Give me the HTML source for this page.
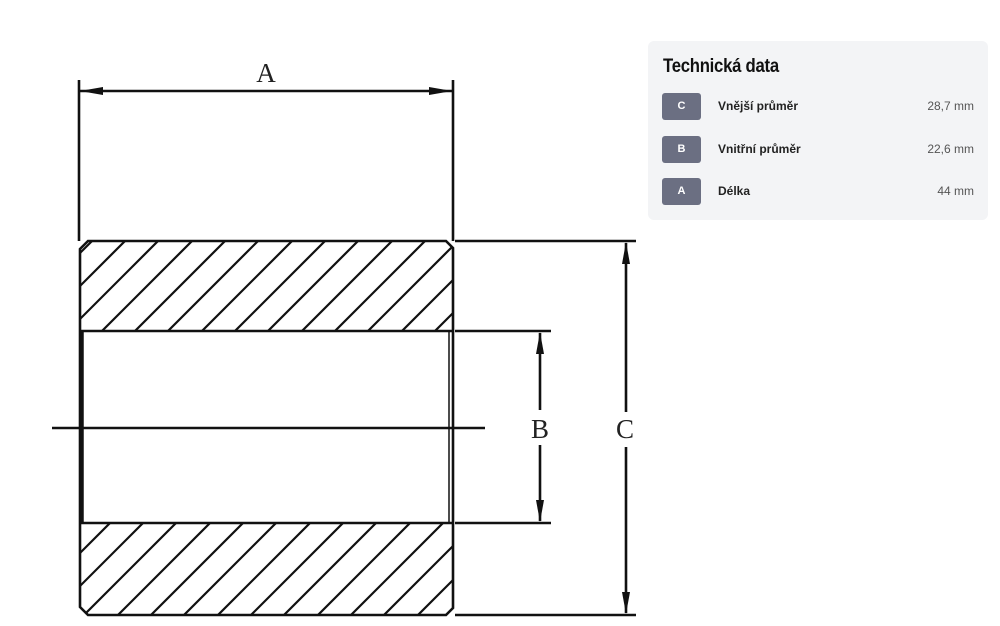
<!DOCTYPE html>
<html><head><meta charset="utf-8"><style>
html,body{margin:0;padding:0;background:#fff;width:1000px;height:626px;overflow:hidden}
body{position:relative;font-family:"Liberation Sans",sans-serif}
svg{position:absolute;left:0;top:0;display:block}
.panel{position:absolute;left:648px;top:41px;width:340px;height:179px;background:#f3f4f6;border-radius:6px}
.title{position:absolute;left:15px;top:15px;font-size:19px;font-weight:bold;color:#111;letter-spacing:-0.3px;transform:scaleX(0.88);transform-origin:left;white-space:nowrap}
.row{position:absolute;left:14px;width:312px;height:27px}
.badge{position:absolute;left:0;top:0;width:39px;height:27px;background:#6b6f82;border-radius:3px;color:#fff;font-size:11px;font-weight:bold;text-align:center;line-height:27px}
.lbl{position:absolute;left:56px;top:6px;font-size:12px;font-weight:bold;color:#222;white-space:nowrap}
.val{position:absolute;right:0;top:6px;font-size:12px;color:#555;white-space:nowrap}
</style></head><body>
<svg width="1000" height="626" viewBox="0 0 1000 626">
<defs>
<clipPath id="top"><path d="M88 241 H446 L453 248 V331 H80 V249 Z"/></clipPath>
<clipPath id="bot"><path d="M80 523 H453 V608 L446 615 H88 L80 607 Z"/></clipPath>
</defs>
<g stroke="#111" stroke-width="2.2" fill="none">
<g clip-path="url(#top)">
<path d="M0 299 L299 0 M0 333 L333 0 M0 366 L366 0 M0 399 L399 0 M0 433 L433 0 M0 466 L466 0 M0 499 L499 0 M0 533 L533 0 M0 566 L566 0 M0 599 L599 0 M0 633 L633 0 M0 666 L666 0 M0 699 L699 0 M0 733 L733 0 M0 766 L766 0 M0 799 L799 0 M0 833 L833 0"/>
</g>
<g clip-path="url(#bot)">
<path d="M0 599 L599 0 M0 633 L633 0 M0 666 L666 0 M0 699 L699 0 M0 733 L733 0 M0 766 L766 0 M0 799 L799 0 M0 833 L833 0 M0 866 L866 0 M0 899 L899 0 M0 933 L933 0 M0 966 L966 0 M0 999 L999 0 M0 1033 L1033 0 M0 1066 L1066 0 M0 1099 L1099 0"/>
</g>
</g>
<g stroke="#111" fill="none" stroke-width="2.6">
<path d="M88 241 H446 L453 248 V608 L446 615 H88 L80 607 V249 Z"/>
<line x1="80" y1="331" x2="453" y2="331"/>
<line x1="80" y1="523" x2="453" y2="523"/>
<line x1="82" y1="331" x2="82" y2="523" stroke-width="3.5"/>
<line x1="449" y1="331" x2="449" y2="523" stroke-width="1.5"/>
<line x1="52" y1="428" x2="485" y2="428"/>
<line x1="79" y1="80" x2="79" y2="241"/>
<line x1="453" y1="80" x2="453" y2="241"/>
<line x1="80" y1="91" x2="452" y2="91"/>
<line x1="455" y1="241" x2="636" y2="241"/>
<line x1="455" y1="615" x2="636" y2="615"/>
<line x1="455" y1="331" x2="551" y2="331"/>
<line x1="455" y1="523" x2="551" y2="523"/>
<line x1="540" y1="333" x2="540" y2="410"/>
<line x1="540" y1="445" x2="540" y2="521"/>
<line x1="626" y1="243" x2="626" y2="412"/>
<line x1="626" y1="447" x2="626" y2="613"/>
</g>
<g fill="#111">
<path d="M80 91 L103 87 L103 95 Z"/>
<path d="M452 91 L429 87 L429 95 Z"/>
<path d="M540 332 L536 354 L544 354 Z"/>
<path d="M540 522 L536 500 L544 500 Z"/>
<path d="M626 242 L622 264 L630 264 Z"/>
<path d="M626 614 L622 592 L630 592 Z"/>
</g>
<g font-family="Liberation Serif, serif" font-size="27" fill="#222" text-anchor="middle">
<text x="266" y="82">A</text>
<text x="540" y="438">B</text>
<text x="625" y="438">C</text>
</g>
</svg>
<div class="panel">
<div class="title">Technická data</div>
<div class="row" style="top:52px"><div class="badge">C</div><div class="lbl">Vnější průměr</div><div class="val">28,7 mm</div></div>
<div class="row" style="top:95px"><div class="badge">B</div><div class="lbl">Vnitřní průměr</div><div class="val">22,6 mm</div></div>
<div class="row" style="top:137px"><div class="badge">A</div><div class="lbl">Délka</div><div class="val">44 mm</div></div>
</div>
</body></html>
